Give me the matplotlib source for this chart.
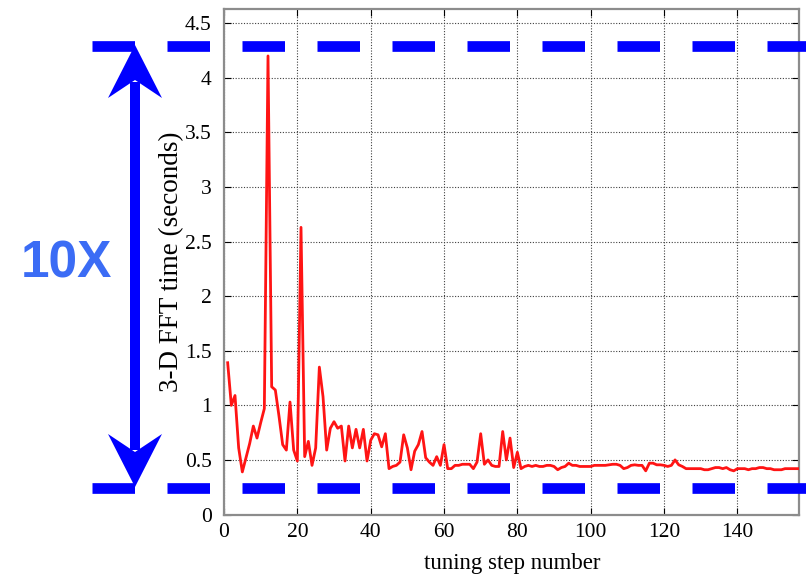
import matplotlib
matplotlib.use("Agg")
import matplotlib.pyplot as plt
from matplotlib.lines import Line2D
from matplotlib.patches import Polygon, Rectangle

# ---------------- data ----------------
steps = list(range(1, 158))
fft_time = [
    1.39, 1.00, 1.09, 0.61, 0.39, 0.52, 0.65, 0.81, 0.70, 0.84,
    0.97, 4.20, 1.17, 1.14, 0.90, 0.64, 0.59, 1.03, 0.59, 0.49,
    2.63, 0.53, 0.67, 0.45, 0.61, 1.35, 1.08, 0.59, 0.79, 0.85,
    0.79, 0.81, 0.49, 0.81, 0.61, 0.78, 0.61, 0.78, 0.49, 0.68,
    0.74, 0.73, 0.62, 0.74, 0.42, 0.44, 0.45, 0.48, 0.73, 0.61,
    0.41, 0.58, 0.64, 0.76, 0.52, 0.48, 0.45, 0.53, 0.45, 0.64,
    0.42, 0.42, 0.45, 0.45, 0.46, 0.46, 0.46, 0.42, 0.48, 0.74,
    0.46, 0.50, 0.45, 0.44, 0.44, 0.76, 0.50, 0.70, 0.43, 0.57,
    0.42, 0.44, 0.45, 0.44, 0.45, 0.44, 0.44, 0.45, 0.45, 0.44,
    0.41, 0.43, 0.44, 0.47, 0.45, 0.45, 0.44, 0.44, 0.44, 0.44,
    0.45, 0.45, 0.45, 0.45, 0.455, 0.46, 0.46, 0.45, 0.42, 0.43,
    0.45, 0.455, 0.45, 0.45, 0.40, 0.47, 0.47, 0.455, 0.455, 0.45,
    0.44, 0.45, 0.50, 0.455, 0.44, 0.42, 0.42, 0.42, 0.42, 0.42,
    0.41, 0.41, 0.42, 0.43, 0.43, 0.42, 0.43, 0.41, 0.40, 0.42,
    0.42, 0.42, 0.41, 0.42, 0.42, 0.43, 0.43, 0.42, 0.42, 0.41,
    0.41, 0.41, 0.42, 0.42, 0.42, 0.42, 0.42,
]
x_ticks = [0, 20, 40, 60, 80, 100, 120, 140]
y_ticks = [0, 0.5, 1, 1.5, 2, 2.5, 3, 3.5, 4, 4.5]
y_tick_labels = ["0", "0.5", "1", "1.5", "2", "2.5", "3", "3.5", "4", "4.5"]
x_label = "tuning step number"
y_label = "3-D FFT time (seconds)"
annot_text = "10X"

# ---------------- figure ----------------
W, H = 806, 579
fig = plt.figure(figsize=(W / 100, H / 100), dpi=100)


def P(px, py):
    return (px / W, 1 - py / H)


ax_l, ax_r, ax_t, ax_b = 224, 799, 9, 514.5
ax = fig.add_axes([ax_l / W, 1 - ax_b / H, (ax_r - ax_l) / W, (ax_b - ax_t) / H])

ax.plot(steps, fft_time, color="#ff1414", lw=2.0, zorder=3)
ax.set_xlim(0, 156.8)
ax.set_ylim(0, 4.63)
ax.set_xticks(x_ticks)
ax.set_yticks(y_ticks)
ax.set_yticklabels(y_tick_labels)
ax.grid(True, linestyle=(0, (1, 1.5)), color="0.25", lw=0.8)
serif = ["Liberation Serif", "DejaVu Serif"]
for lab in ax.get_xticklabels() + ax.get_yticklabels():
    lab.set_family(serif)
    lab.set_fontsize(15.5)
ax.tick_params(axis="both", direction="in", length=5, width=0.8, color="black",
               top=True, right=True)
ax.tick_params(axis="y", pad=9)
ax.tick_params(axis="x", pad=6)
for s in ax.spines.values():
    s.set_color("#8c8c8c")
    s.set_linewidth(1.6)

fig.text(*P(172, 262), y_label, rotation=90, ha="center", va="center",
         family=serif, fontsize=19.5)
fig.text(*P(512, 563), x_label, ha="center", va="center",
         family=serif, fontsize=16.5)

# ---------------- annotation overlay ----------------
blue = "#0000ff"
lw_pt = 7.7
on_pt, off_pt = 42.5 * 0.72, 32.5 * 0.72
for ypix in (45.5, 488):
    x0, y0 = P(92, ypix)
    x1, _ = P(806, ypix)
    ln = Line2D([x0, x1], [y0, y0], transform=fig.transFigure, color=blue,
                lw=lw_pt, linestyle=(0, (on_pt / lw_pt, off_pt / lw_pt)),
                solid_capstyle="butt", dash_capstyle="butt", zorder=10)
    fig.add_artist(ln)

# double-headed arrow
cx = 135
top_tip, bot_tip = 45, 487
head_len, half_w, notch = 53, 27, 35
shaft_w = 10
up = Polygon([P(cx, top_tip), P(cx + half_w, top_tip + head_len),
              P(cx, top_tip + notch), P(cx - half_w, top_tip + head_len)],
             closed=True, transform=fig.transFigure, facecolor=blue,
             edgecolor="none", zorder=11)
dn = Polygon([P(cx, bot_tip), P(cx + half_w, bot_tip - head_len),
              P(cx, bot_tip - notch), P(cx - half_w, bot_tip - head_len)],
             closed=True, transform=fig.transFigure, facecolor=blue,
             edgecolor="none", zorder=11)
sx, sy = P(cx - shaft_w / 2, bot_tip - notch - 2)
_, sy2 = P(cx, top_tip + notch + 2)
shaft = Rectangle((sx, sy), shaft_w / W, sy2 - sy, transform=fig.transFigure,
                  facecolor=blue, edgecolor="none", zorder=11)
for a in (up, dn, shaft):
    fig.add_artist(a)

fig.text(*P(66, 264), annot_text, ha="center", va="center",
         family=["Liberation Sans", "DejaVu Sans"], fontweight="bold",
         fontsize=37, color="#3b6cf5")

fig.savefig("out.png", dpi=100)
